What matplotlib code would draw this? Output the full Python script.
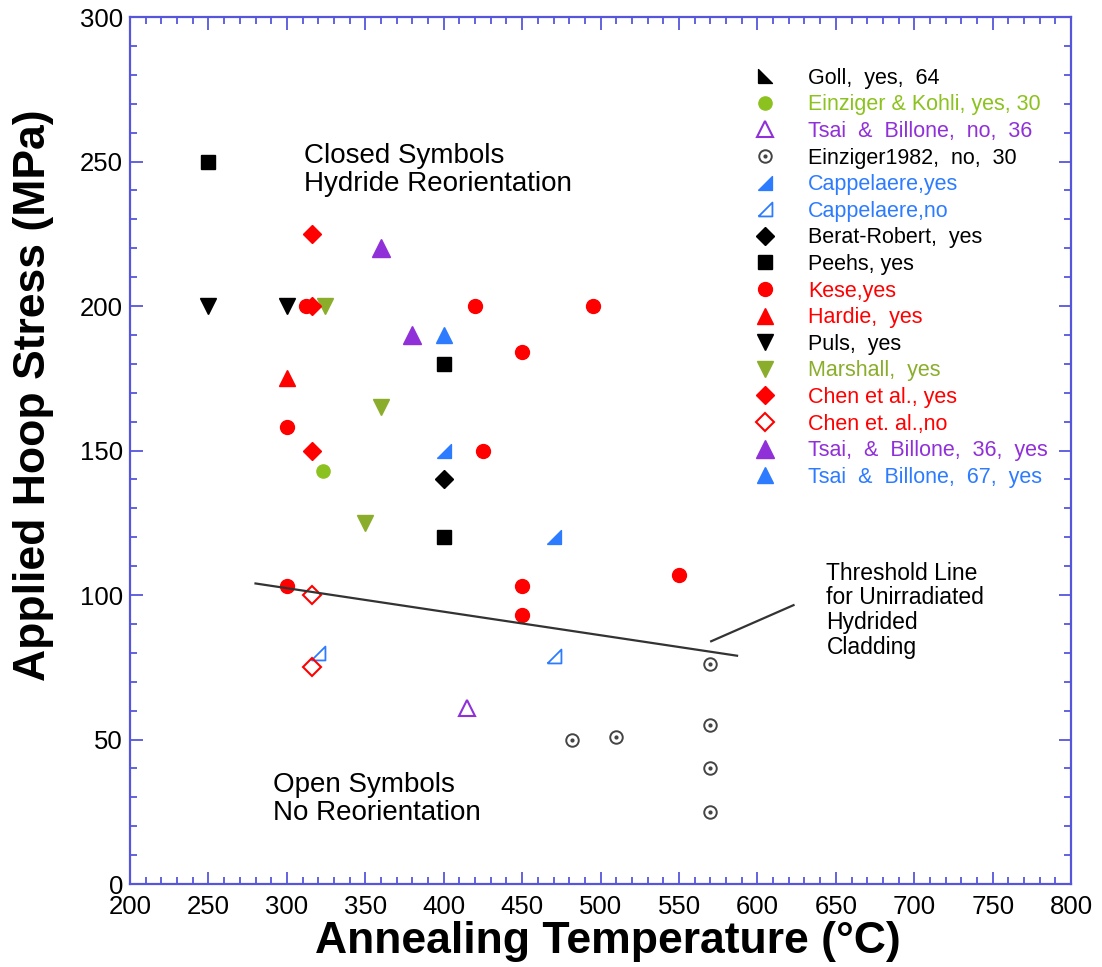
import matplotlib
matplotlib.use("Agg")
import matplotlib.pyplot as plt
from matplotlib.lines import Line2D

plt.rcParams['font.family'] = ['Liberation Sans', 'DejaVu Sans']

# --- data (temperature degC, stress MPa) ---
goll_x, goll_y = [], []
einz_kohli_x, einz_kohli_y = [323], [143]
tsai_no_x, tsai_no_y = [415], [61]
einz1982_x = [482, 510, 570, 570, 570, 570]
einz1982_y = [50, 51, 76, 55, 40, 25]
capp_yes_x, capp_yes_y = [400, 470], [150, 120]
capp_no_x, capp_no_y = [320, 470], [80, 79]
berat_x, berat_y = [400], [140]
peehs_x, peehs_y = [250, 400, 400], [250, 180, 120]
kese_x = [312, 300, 420, 495, 450, 425, 300, 450, 450, 550]
kese_y = [200, 158, 200, 200, 184, 150, 103, 103, 93, 107]
hardie_x, hardie_y = [300], [175]
puls_x, puls_y = [250, 300], [200, 200]
marshall_x, marshall_y = [324, 360, 350], [200, 165, 125]
chen_yes_x, chen_yes_y = [316, 316, 316], [225, 200, 150]
chen_no_x, chen_no_y = [316, 316], [100, 75]
tsai36_x, tsai36_y = [360, 380], [220, 190]
tsai67_x, tsai67_y = [400], [190]

threshold_x = [280, 587]
threshold_y = [104, 79]

RED = '#ff0000'
GREEN = '#8cc21f'
OLIVE = '#8aae2c'
PURPLE = '#9030d8'
BLUE = '#2d7cff'
AXBLUE = '#5656dc'

# right-angle triangle markers
tri_ll = [(-1, -1), (1, -1), (-1, 1), (-1, -1)]   # like goll
tri_lr = [(-1, -1), (1, -1), (1, 1), (-1, -1)]    # like cappelaere

fig = plt.figure(figsize=(11.02, 9.67), dpi=100)
ax = fig.add_axes([0.118, 0.0858, 0.854, 0.8966])

ax.plot(goll_x, goll_y, ls='none', marker=tri_ll, ms=10, color='black')
ax.plot(einz_kohli_x, einz_kohli_y, ls='none', marker='o', ms=9.5, color=GREEN)
ax.plot(tsai_no_x, tsai_no_y, ls='none', marker='^', ms=11, mfc='none', mec=PURPLE, mew=1.5)
ax.plot(einz1982_x, einz1982_y, ls='none', marker='o', ms=9, mfc='none', mec='#444444', mew=1.4)
ax.plot(einz1982_x, einz1982_y, ls='none', marker='o', ms=2, color='#444444')
ax.plot(capp_yes_x, capp_yes_y, ls='none', marker=tri_lr, ms=10, color=BLUE)
ax.plot(capp_no_x, capp_no_y, ls='none', marker=tri_lr, ms=10, mfc='none', mec=BLUE, mew=1.3)
ax.plot(berat_x, berat_y, ls='none', marker='D', ms=9.5, color='black')
ax.plot(peehs_x, peehs_y, ls='none', marker='s', ms=9.5, color='black')
ax.plot(kese_x, kese_y, ls='none', marker='o', ms=10, color=RED)
ax.plot(hardie_x, hardie_y, ls='none', marker='^', ms=11, color=RED)
ax.plot(puls_x, puls_y, ls='none', marker='v', ms=11, color='black')
ax.plot(marshall_x, marshall_y, ls='none', marker='v', ms=11, color=OLIVE)
ax.plot(chen_yes_x, chen_yes_y, ls='none', marker='D', ms=9.5, color=RED)
ax.plot(chen_no_x, chen_no_y, ls='none', marker='D', ms=9, mfc='none', mec=RED, mew=1.5)
ax.plot(tsai36_x, tsai36_y, ls='none', marker='^', ms=12.5, color=PURPLE)
ax.plot(tsai67_x, tsai67_y, ls='none', marker='^', ms=11, color=BLUE)

# threshold line and its pointer
ax.plot(threshold_x, threshold_y, color='#333333', lw=1.6)
ax.plot([570.5, 623], [84, 96.5], color='#333333', lw=1.6)
ax.text(644, 111.5, 'Threshold Line\nfor Unirradiated\nHydrided\nCladding',
        fontsize=16.5, va='top', ha='left', linespacing=1.09)
ax.text(311, 256.5, 'Closed Symbols\nHydride Reorientation',
        fontsize=20, va='top', ha='left', linespacing=1.1)
ax.text(291, 38.6, 'Open Symbols\nNo Reorientation',
        fontsize=20, va='top', ha='left', linespacing=1.1)

# legend
entries = [
    ((Line2D([], [], ls='none', marker=tri_ll, ms=10, color='black'),), 'Goll,  yes,  64', 'black'),
    ((Line2D([], [], ls='none', marker='o', ms=9.5, color=GREEN),), 'Einziger & Kohli, yes, 30', GREEN),
    ((Line2D([], [], ls='none', marker='^', ms=11, mfc='none', mec=PURPLE, mew=1.5),), 'Tsai  &  Billone,  no,  36', PURPLE),
    ((Line2D([], [], ls='none', marker='o', ms=9, mfc='none', mec='#444444', mew=1.4),
      Line2D([], [], ls='none', marker='o', ms=2, color='#444444')), 'Einziger1982,  no,  30', 'black'),
    ((Line2D([], [], ls='none', marker=tri_lr, ms=10, color=BLUE),), 'Cappelaere,yes', BLUE),
    ((Line2D([], [], ls='none', marker=tri_lr, ms=10, mfc='none', mec=BLUE, mew=1.3),), 'Cappelaere,no', BLUE),
    ((Line2D([], [], ls='none', marker='D', ms=9.5, color='black'),), 'Berat-Robert,  yes', 'black'),
    ((Line2D([], [], ls='none', marker='s', ms=9.5, color='black'),), 'Peehs, yes', 'black'),
    ((Line2D([], [], ls='none', marker='o', ms=10, color=RED),), 'Kese,yes', RED),
    ((Line2D([], [], ls='none', marker='^', ms=11, color=RED),), 'Hardie,  yes', RED),
    ((Line2D([], [], ls='none', marker='v', ms=11, color='black'),), 'Puls,  yes', 'black'),
    ((Line2D([], [], ls='none', marker='v', ms=11, color=OLIVE),), 'Marshall,  yes', OLIVE),
    ((Line2D([], [], ls='none', marker='D', ms=9.5, color=RED),), 'Chen et al., yes', RED),
    ((Line2D([], [], ls='none', marker='D', ms=9, mfc='none', mec=RED, mew=1.5),), 'Chen et. al.,no', RED),
    ((Line2D([], [], ls='none', marker='^', ms=12.5, color=PURPLE),), 'Tsai,  &  Billone,  36,  yes', PURPLE),
    ((Line2D([], [], ls='none', marker='^', ms=11, color=BLUE),), 'Tsai  &  Billone,  67,  yes', BLUE),
]
leg = ax.legend([e[0] for e in entries], [e[1] for e in entries],
                loc='upper left', bbox_to_anchor=(0.661, 0.9414), frameon=False,
                fontsize=15.5, handlelength=1.2, handletextpad=1.4, labelspacing=0.26,
                borderpad=0, borderaxespad=0, numpoints=1)
for txt, e in zip(leg.get_texts(), entries):
    txt.set_color(e[2])

ax.set_xlim(200, 800)
ax.set_ylim(0, 300)
ax.set_xticks(range(200, 801, 50))
ax.set_yticks(range(0, 301, 50))
ax.set_xticks(range(200, 801, 10), minor=True)
ax.set_yticks(range(0, 301, 10), minor=True)
ax.tick_params(which='both', direction='in', top=True, right=True, color=AXBLUE,
               labelsize=18.5)
ax.tick_params(which='major', length=9, width=1.3)
ax.tick_params(which='minor', length=5, width=1.3)
ax.tick_params(axis='x', pad=8)
ax.tick_params(axis='y', pad=5)
for sp in ax.spines.values():
    sp.set_color(AXBLUE)
    sp.set_linewidth(1.6)

ax.set_xlabel('Annealing Temperature (°C)', fontsize=32, fontweight='bold')
ax.set_ylabel('Applied Hoop Stress (MPa)', fontsize=32, fontweight='bold')
ax.xaxis.set_label_coords(0.508, -0.043)
ax.yaxis.set_label_coords(-0.081, 0.564)

fig.savefig('out.png', dpi=100)
